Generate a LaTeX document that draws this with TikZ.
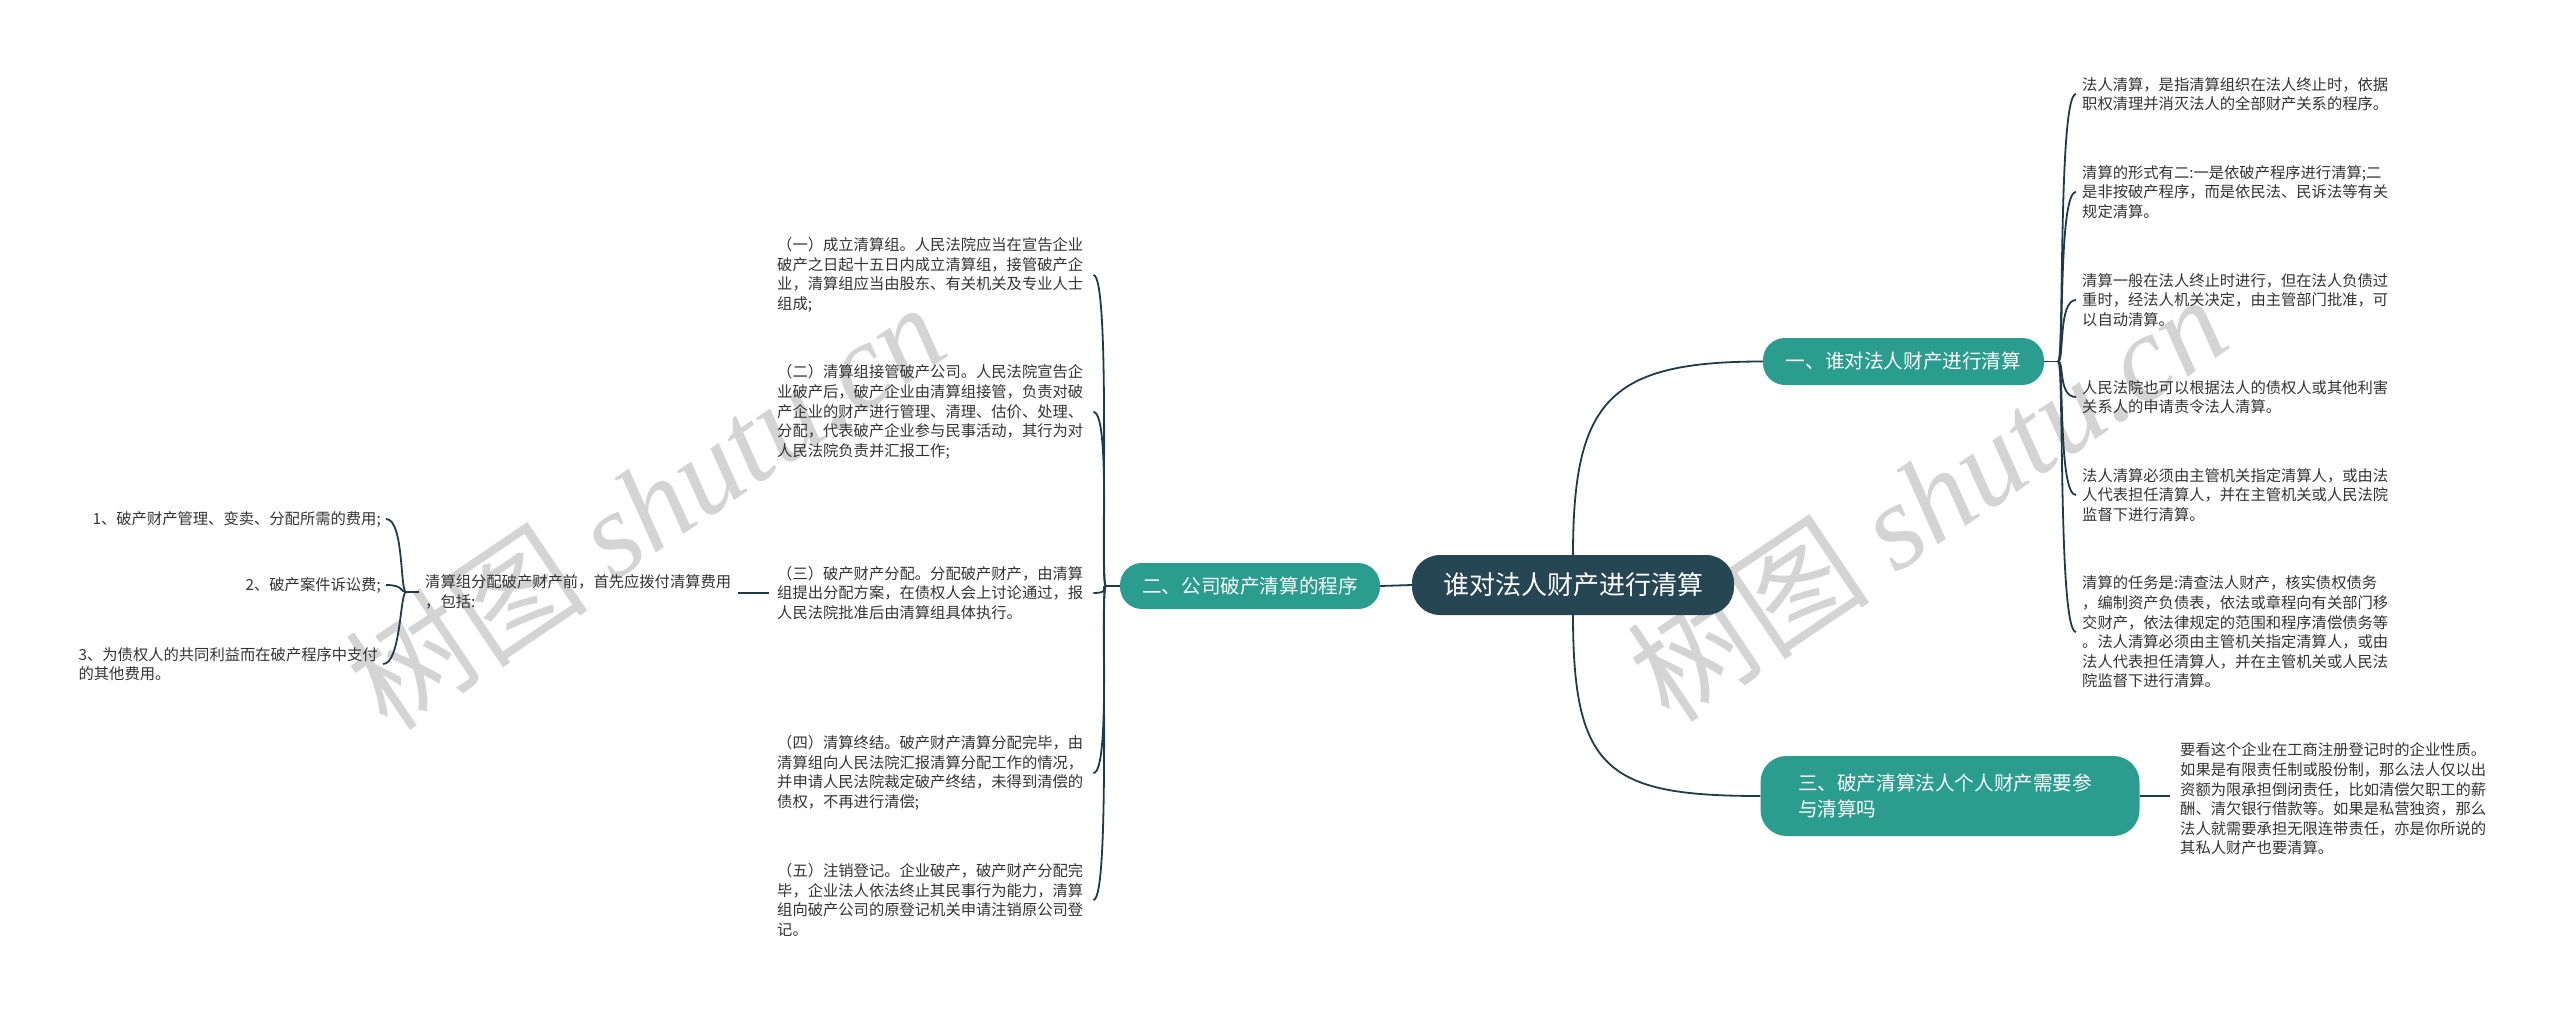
\documentclass[tikz,border=0pt]{standalone}
\usepackage{fontspec}
\setmainfont{Noto Sans CJK SC}
\newfontfamily\wmcjk{Noto Sans CJK SC}
\newfontfamily\wmlat{Liberation Serif}
\usetikzlibrary{calc}
\definecolor{rootfill}{HTML}{264653}
\definecolor{branchfill}{HTML}{2A9D8F}
\definecolor{linecol}{HTML}{1F3B47}
\definecolor{leafcol}{HTML}{333333}
\definecolor{wmcol}{HTML}{D4D4D4}
\tikzset{
  rootbox/.style={fill=rootfill, text=white, rounded corners=28pt, minimum width=322pt, minimum height=60pt, inner sep=0pt, font=\fontsize{26}{30}\selectfont},
  branchbox/.style={fill=branchfill, text=white, rounded corners=22pt, inner sep=0pt, font=\fontsize{19.6}{26}\selectfont},
  leaftext/.style={text=leafcol, inner sep=0pt, align=left, font=\fontsize{15.3}{19.6}\selectfont},
  conn/.style={draw=linecol, line width=1.8pt},
  wmark/.style={text=wmcol, inner sep=0pt, font=\fontsize{122}{122}\selectfont}
}
\begin{document}
\begin{tikzpicture}[x=1pt,y=-1pt]
\useasboundingbox (0,0) rectangle (2560,1012);
\fill[white] (0,0) rectangle (2560,1012);

% watermarks
\node[wmark, rotate=34] (wm1) at (645,505) {{\wmcjk 树图} {\wmlat\itshape shutu.cn}};
\node[wmark, rotate=34] (wm2) at (1927,497) {{\wmcjk 树图} {\wmlat\itshape shutu.cn}};

% root and branches
\node[rootbox] (c) at (1573,585) {谁对法人财产进行清算};
\node[branchbox, minimum width=281pt, minimum height=47pt] (b1) at (1903.5,361.5) {一、谁对法人财产进行清算};
\node[branchbox, minimum width=260pt, minimum height=46pt] (b2) at (1250,586) {二、公司破产清算的程序};
\node[branchbox, minimum width=379pt, minimum height=80pt, rounded corners=26pt, align=left, text width=304pt] (b3) at (1950,796) {三、破产清算法人个人财产需要参\\与清算吗};

% right leaves of branch 1
\node[leaftext, anchor=west] (r1) at (2082,94) {法人清算，是指清算组织在法人终止时，依据\\职权清理并消灭法人的全部财产关系的程序。};
\node[leaftext, anchor=west] (r2) at (2082,192) {清算的形式有二:一是依破产程序进行清算;二\\是非按破产程序，而是依民法、民诉法等有关\\规定清算。};
\node[leaftext, anchor=west] (r3) at (2082,300) {清算一般在法人终止时进行，但在法人负债过\\重时，经法人机关决定，由主管部门批准，可\\以自动清算。};
\node[leaftext, anchor=west] (r4) at (2082,397) {人民法院也可以根据法人的债权人或其他利害\\关系人的申请责令法人清算。};
\node[leaftext, anchor=west] (r5) at (2082,495) {法人清算必须由主管机关指定清算人，或由法\\人代表担任清算人，并在主管机关或人民法院\\监督下进行清算。};
\node[leaftext, anchor=west] (r6) at (2082,632) {清算的任务是:清查法人财产，核实债权债务\\，编制资产负债表，依法或章程向有关部门移\\交财产，依法律规定的范围和程序清偿债务等\\。法人清算必须由主管机关指定清算人，或由\\法人代表担任清算人，并在主管机关或人民法\\院监督下进行清算。};

% leaf of branch 3
\node[leaftext, anchor=west] (t1) at (2180,799) {要看这个企业在工商注册登记时的企业性质。\\如果是有限责任制或股份制，那么法人仅以出\\资额为限承担倒闭责任，比如清偿欠职工的薪\\酬、清欠银行借款等。如果是私营独资，那么\\法人就需要承担无限连带责任，亦是你所说的\\其私人财产也要清算。};

% left leaves of branch 2
\node[leaftext, anchor=west, text width=310pt] (l1) at (777,275) {（一）成立清算组。人民法院应当在宣告企业\\破产之日起十五日内成立清算组，接管破产企\\业，清算组应当由股东、有关机关及专业人士\\组成;};
\node[leaftext, anchor=west, text width=310pt] (l2) at (777,412) {（二）清算组接管破产公司。人民法院宣告企\\业破产后，破产企业由清算组接管，负责对破\\产企业的财产进行管理、清理、估价、处理、\\分配，代表破产企业参与民事活动，其行为对\\人民法院负责并汇报工作;};
\node[leaftext, anchor=west, text width=310pt] (l3) at (777,593) {（三）破产财产分配。分配破产财产，由清算\\组提出分配方案，在债权人会上讨论通过，报\\人民法院批准后由清算组具体执行。};
\node[leaftext, anchor=west, text width=310pt] (l4) at (777,773) {（四）清算终结。破产财产清算分配完毕，由\\清算组向人民法院汇报清算分配工作的情况，\\并申请人民法院裁定破产终结，未得到清偿的\\债权，不再进行清偿;};
\node[leaftext, anchor=west, text width=310pt] (l5) at (777,900) {（五）注销登记。企业破产，破产财产分配完\\毕，企业法人依法终止其民事行为能力，清算\\组向破产公司的原登记机关申请注销原公司登\\记。};

% far left
\node[leaftext, anchor=west] (fc) at (425,592) {清算组分配破产财产前，首先应拨付清算费用\\，包括:};
\node[leaftext, anchor=east] (f1) at (381,519) {1、破产财产管理、变卖、分配所需的费用;};
\node[leaftext, anchor=east] (f2) at (381,585) {2、破产案件诉讼费;};
\node[leaftext, anchor=east] (f3) at (378,664) {3、为债权人的共同利益而在破产程序中支付\\的其他费用。};

% connectors: root
\draw[conn] (c.north) .. controls +(0,-155) and +(-153,0) .. (b1.west);
\draw[conn] (c.south) .. controls +(0,155) and +(-153,0) .. (b3.west);
\draw[conn] (b2.east) -- (c.west);

% branch 1 -> leaves
\draw[conn] (b1.east) -- ++(14,0) coordinate (b1s);
\foreach \n in {r1,r2,r3,r4,r5,r6}
  \draw[conn] (b1s) .. controls +(6,0) and +(-18,0) .. ([xshift=-6pt]\n.west);

% branch 3 -> leaf
\draw[conn] (b3.east) -- ([xshift=-10pt]t1.west |- b3.east);

% branch 2 -> leaves
\draw[conn] (b2.west) -- ++(-14,0) coordinate (b2s);
\foreach \n in {l1,l2,l3,l4,l5}
  \draw[conn] (b2s) .. controls +(-6,0) and +(18,0) .. ([xshift=6pt]\n.east);

% leaf 3 -> far-left child
\draw[conn] ([xshift=-8pt]l3.west) -- ([xshift=7pt]fc.east |- l3.west);

% far-left child -> items
\draw[conn] ([xshift=-6pt]fc.west) -- ++(-13,0) coordinate (fcs);
\foreach \n in {f1,f2,f3}
  \draw[conn] (fcs) .. controls +(-6,0) and +(18,0) .. ([xshift=5pt]\n.east);
\end{tikzpicture}
\end{document}
